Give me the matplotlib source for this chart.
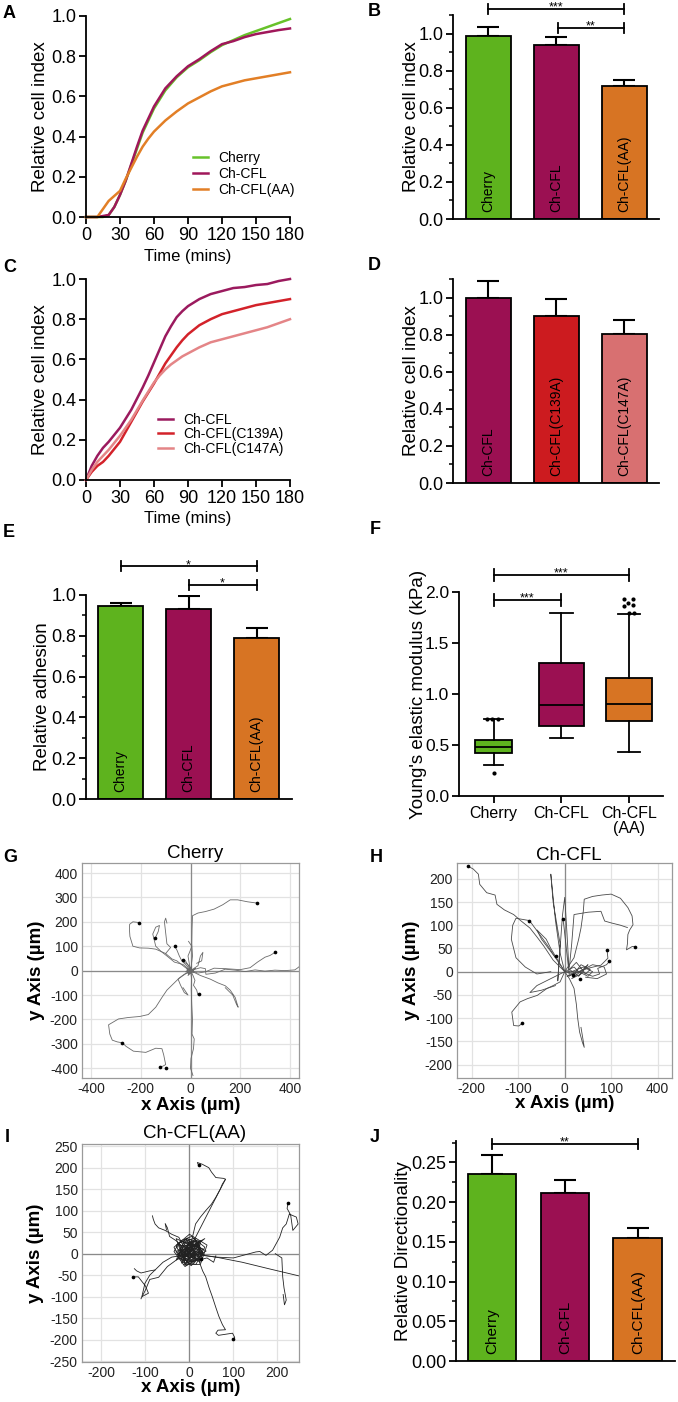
import numpy as np
import matplotlib
matplotlib.use('Agg')
import matplotlib.pyplot as plt
from matplotlib.ticker import MultipleLocator

plt.rcParams['font.family'] = ['Liberation Sans', 'DejaVu Sans']

# ---------------- data ----------------
# A: real-time cell index
time_a = [0, 5, 10, 15, 20, 25, 30, 35, 40, 45, 50, 55, 60, 70, 80, 90, 100, 110, 120, 130, 140, 150, 160, 170, 180]
cherry_a = [0, 0, 0, 0, 0.01, 0.05, 0.11, 0.18, 0.26, 0.34, 0.42, 0.48, 0.54, 0.63, 0.695, 0.745, 0.78, 0.82, 0.855, 0.88, 0.905, 0.925, 0.945, 0.965, 0.985]
cfl_a = [0, 0, 0, 0.005, 0.01, 0.05, 0.11, 0.18, 0.265, 0.35, 0.43, 0.49, 0.55, 0.64, 0.70, 0.75, 0.785, 0.825, 0.86, 0.875, 0.895, 0.91, 0.92, 0.93, 0.938]
aa_a = [0, 0, 0, 0.04, 0.08, 0.105, 0.13, 0.19, 0.245, 0.30, 0.35, 0.39, 0.425, 0.48, 0.525, 0.565, 0.595, 0.625, 0.65, 0.665, 0.68, 0.69, 0.70, 0.71, 0.72]

# C: real-time cell index, cysteine mutants
time_c = [0, 5, 10, 15, 20, 30, 40, 50, 55, 60, 65, 70, 75, 80, 85, 90, 100, 110, 120, 130, 140, 150, 160, 170, 180]
cfl_c = [0, 0.07, 0.12, 0.16, 0.19, 0.26, 0.35, 0.46, 0.52, 0.585, 0.65, 0.715, 0.765, 0.81, 0.84, 0.865, 0.90, 0.925, 0.94, 0.955, 0.96, 0.97, 0.975, 0.99, 1.0]
c139_c = [0, 0.04, 0.07, 0.09, 0.12, 0.19, 0.29, 0.39, 0.435, 0.48, 0.53, 0.58, 0.62, 0.66, 0.695, 0.725, 0.77, 0.80, 0.825, 0.84, 0.855, 0.87, 0.88, 0.89, 0.90]
c147_c = [0, 0.05, 0.09, 0.12, 0.15, 0.22, 0.30, 0.395, 0.44, 0.485, 0.52, 0.55, 0.575, 0.595, 0.615, 0.63, 0.66, 0.685, 0.70, 0.715, 0.73, 0.745, 0.76, 0.78, 0.80]

names_aa = ['Cherry', 'Ch-CFL', 'Ch-CFL(AA)']
names_cys = ['Ch-CFL', 'Ch-CFL(C139A)', 'Ch-CFL(C147A)']

# B, D, E, J bar values (mean, SEM)
rci_b = [0.985, 0.939, 0.719]
rci_b_err = [0.051, 0.041, 0.032]
rci_d = [1.0, 0.899, 0.805]
rci_d_err = [0.088, 0.091, 0.076]
adh_e = [0.947, 0.932, 0.788]
adh_e_err = [0.015, 0.064, 0.049]
dir_j = [0.235, 0.211, 0.155]
dir_j_err = [0.024, 0.017, 0.012]

# F: Young's modulus box plot
box_names = ['Cherry', 'Ch-CFL', 'Ch-CFL\n(AA)']
box_lo = [0.30, 0.565, 0.436]
box_q1 = [0.423, 0.684, 0.74]
box_med = [0.485, 0.897, 0.90]
box_q3 = [0.55, 1.30, 1.159]
box_hi = [0.757, 1.79, 1.786]
flier_grp = [0, 0, 0, 0, 2, 2, 2, 2, 2, 2, 2]
flier_dx = [-0.1, -0.02, 0.07, 0.0, -0.07, 0.05, -0.01, -0.07, 0.05, 0.0, 0.07]
flier_y = [0.757, 0.757, 0.757, 0.224, 1.93, 1.93, 1.89, 1.86, 1.87, 1.795, 1.795]

# G: Cherry cell tracks (um)
cherry_tracks = [
    [(0, 0), (6, -8), (3, 20), (8, 60), (5, 110), (6, 170), (8, 225), (30, 236), (60, 242), (95, 252), (130, 270), (160, 290), (190, 290), (230, 282), (266, 277)],
    [(0, 0), (30, -10), (60, -5), (95, 10), (140, 8), (200, 4), (240, 12), (270, 35), (300, 55), (320, 62), (341, 75)],
    [(0, 0), (40, 12), (60, 8), (62, -15), (100, -10), (140, 6), (180, 2), (220, -4), (260, 3), (300, -2), (340, 2), (380, 0), (420, 3), (430, 10), (436, 15)],
    [(0, 0), (-20, 12), (-30, 20), (-55, 40), (-75, 48), (-100, 70), (-140, 88), (-170, 92), (-205, 93), (-232, 100), (-244, 140), (-246, 170), (-245, 190), (-232, 200), (-215, 198), (-207, 195)],
    [(0, 0), (-30, 25), (-65, 35), (-95, 60), (-120, 80), (-140, 100), (-152, 150), (-140, 178), (-125, 185), (-130, 160), (-142, 134)],
    [(-100, 70), (-80, 95), (-95, 110), (-105, 200), (-100, 215), (-95, 195)],
    [(0, 0), (-15, 20), (-35, 40), (-45, 60), (-55, 85), (-64, 100)],
    [(0, 0), (10, -20), (18, -40), (12, -60), (25, -80), (30, -100), (35, -94)],
    [(0, 0), (-25, -15), (-45, -30), (-70, -55), (-95, -80), (-115, -110), (-140, -150), (-170, -180), (-205, -188), (-250, -192), (-290, -198), (-330, -222), (-325, -260), (-315, -285), (-295, -292), (-274, -296)],
    [(-274, -296), (-260, -310), (-230, -330), (-180, -335), (-140, -318), (-115, -320), (-108, -345), (-100, -385), (-112, -392), (-123, -393)],
    [(0, 0), (4, -30), (3, -80), (5, -140), (8, -200), (6, -260), (15, -280), (12, -320), (2, -360), (0, -400), (10, -430)],
    [(0, 0), (40, -20), (80, -35), (110, -50), (140, -62), (160, -80), (180, -110), (192, -150), (186, -140), (170, -100), (140, -70)],
    [(0, 0), (-5, 30), (-10, 60), (-2, 80), (5, 100), (-8, 120)],
    [(0, 0), (30, 20), (40, 60), (50, 75), (45, 40), (25, 30)],
    [(0, 0), (-15, 10), (-8, -15), (10, 5), (-20, -5), (5, 15), (-12, -10), (15, -8), (-5, 20), (-25, 35), (-30, 45), (-20, 40), (5, -5), (20, 10), (-10, -20), (0, 0)],
    [(0, 0), (-30, -20), (-50, -35), (-40, -60), (-25, -90), (-10, -100), (-30, -70)],
]
cherry_ends = [(266, 277), (341, 75), (-207, 195), (-142, 134), (-64, 100), (35, -94), (-274, -296), (-123, -393), (-100, -398), (-30, 45)]

# H: Ch-CFL cell tracks (um)
cfl_tracks = [
    [(0, 0), (-15, 15), (-25, 25), (-45, 55), (-60, 75), (-75, 94), (-95, 110), (-110, 123), (-130, 133), (-146, 145), (-150, 165), (-168, 170), (-183, 188), (-186, 210), (-197, 221), (-208, 227)],
    [(0, 0), (-20, 30), (-38, 58), (-59, 87), (-76, 110)],
    [(-76, 110), (-105, 115), (-112, 100), (-115, 70), (-105, 30), (-85, 10), (-60, -5), (-30, 0)],
    [(0, 0), (-10, -22), (-25, -30), (-38, -36), (-59, -51), (-80, -58), (-96, -65), (-114, -87), (-110, -116), (-99, -117), (-91, -111)],
    [(0, 0), (-10, 40), (-20, 110), (-30, 210), (-25, 150), (-10, 60), (-15, -20), (-5, 120), (0, 160), (5, 80), (10, -10), (-2, 100), (-4, 114)],
    [(0, 0), (20, -5), (49, 7), (78, 14), (93, 29), (91, 47)],
    [(0, 0), (35, 0), (60, -10), (75, -5), (71, 7), (90, 15), (96, 22)],
    [(0, 0), (20, 30), (30, 70), (35, 94), (40, 130), (42, 156), (60, 162), (80, 165), (100, 167), (120, 158), (136, 138), (145, 120), (147, 101), (140, 90), (136, 80), (135, 60), (133, 47), (145, 54), (152, 54)],
    [(10, 10), (15, 60), (20, 123), (50, 128), (78, 130), (86, 109), (100, 105), (120, 100), (135, 95)],
    [(0, 0), (10, -15), (20, -36), (25, -70), (28, -101), (32, -130), (38, -152), (42, -163), (40, -150), (35, -120)],
    [(0, 0), (20, 10), (35, -5), (15, -15), (40, 5), (50, 15), (30, -10), (10, 5), (25, 20), (45, -5), (55, 5), (35, 15), (20, -5), (5, -10), (30, 0), (50, -10), (60, 0), (40, 10), (15, 0)],
    [(30, 0), (60, 15), (85, 10), (90, -5), (70, -15), (45, -12)],
    [(0, 0), (-30, 50), (-40, 70), (-60, 90), (-50, 70), (-20, 30)],
    [(0, 0), (-60, -30), (-75, -45), (-50, -40), (-20, -30)],
]
cfl_ends = [(-208, 227), (-76, 110), (-91, -111), (-4, 114), (-18, 34), (91, 47), (96, 22), (152, 54), (17, -7), (33, -16)]

# I: Ch-CFL(AA) cell tracks (um)
aa_tracks = [
    [(0, 0), (5, 30), (14, 69), (25, 85), (37, 100), (50, 115), (60, 131), (70, 150), (75, 162), (82, 173), (78, 175), (60, 177), (50, 190), (44, 200), (29, 208), (18, 212), (21, 205)],
    [(82, 173), (50, 110), (20, 50), (0, 10)],
    [(0, 0), (40, -5), (60, -8), (100, -10), (151, 4), (160, 5), (174, -4), (189, 8), (205, 38), (212, 60), (220, 69), (227, 92), (243, 85), (247, 69), (235, 54), (230, 90), (222, 105), (224, 118)],
    [(0, 0), (-20, -5), (-40, -8), (-60, -20), (-78, -38), (-90, -50), (-101, -69), (-108, -100), (-93, -92), (-100, -75), (-116, -54), (-129, -54)],
    [(-78, -38), (-90, -40), (-110, -45), (-120, -40), (-125, -35)],
    [(0, 0), (15, -10), (21, -15), (30, -40), (37, -54), (45, -80), (52, -100), (60, -125), (67, -146), (75, -165), (82, -177), (65, -178), (60, -185), (66, -190), (98, -185), (103, -195), (100, -198)],
    [(0, 0), (60, -8), (120, -20), (180, -35), (250, -52)],
    [(195, 0), (210, -10), (212, -54), (215, -80), (220, -108), (216, -119), (213, -95)],
    [(0, 0), (-15, 20), (-24, 38), (-40, 45), (-55, 54), (-70, 60), (-78, 69), (-82, 80), (-84, 88)],
    [(0, 0), (-30, 30), (-45, 40), (-50, 60), (-55, 70), (-52, 55)],
    [(0, 0), (20, -15), (40, -10), (55, -20), (60, -5)],
    [(0, 0), (-30, -15), (-50, -30), (-70, -55), (-90, -60), (-100, -85), (-110, -105)],
    [(0, 0), (10, 20), (-10, 25), (-20, 5), (5, -15), (25, 10), (15, 30), (-15, 15), (-25, -10), (10, -20), (30, 0), (20, 25), (-5, 35), (-30, 20), (-15, -20), (15, -25), (35, 15), (5, 40), (-20, 30), (-35, 5), (-10, -30), (20, -10), (25, 30), (-5, 10), (0, -10), (-25, 25), (10, 35), (35, -5), (15, 5), (-15, -5)],
    [(5, 5), (-15, 25), (20, 30), (30, -15), (-20, -15), (-35, 15), (0, 45), (40, 20), (25, -25), (-10, -25), (-30, 35), (10, 15), (35, 35), (-25, 0), (15, -5), (0, 25), (-10, 5), (20, 10), (-5, -15), (30, 5)],
    [(-5, -5), (18, 22), (-22, 18), (-8, -28), (28, -8), (12, 28), (-28, -2), (8, -18), (22, 15), (-12, 30), (-30, -15), (5, 20), (32, 10), (-18, -22), (0, 30), (25, -20), (-25, 10), (10, -5), (-10, 15), (15, 35)],
    [(0, 5), (-12, -12), (14, -6), (6, 18), (-18, 8), (20, 20), (-6, -20), (-24, 22), (30, -2), (4, -28), (-30, 6), (16, 12), (-2, 26), (24, -14), (-16, -4), (8, 8), (-8, 34), (38, 6), (-14, -26), (12, -14)],
    [(2, 2), (8, 12), (-6, 8), (-4, -6), (10, -4), (4, 16), (-12, 2), (0, -12), (14, 6), (-8, 14), (-2, 4), (6, -8), (12, 14), (-10, -8), (2, 10)],
]
aa_ends = [(21, 205), (224, 118), (-129, -54), (100, -198), (27, -12)]

g_xticks = [-400, -200, 0, 200, 400]
g_xlabels = ['-400', '-200', '0', '200', '400']
g_yticks = [-400, -300, -200, -100, 0, 100, 200, 300, 400]
g_ylabels = ['-400', '-300', '-200', '-100', '0', '100', '200', '300', '400']
h_xticks = [-200, -100, 0, 100, 200]
h_xlabels = ['-200', '-100', '0', '100', '400']
h_yticks = [-200, -150, -100, -50, 0, 50, 100, 150, 200]
h_ylabels = ['-200', '-150', '-100', '-50', '0', '50', '100', '150', '200']
i_xticks = [-200, -100, 0, 100, 200]
i_xlabels = ['-200', '-100', '0', '100', '200']
i_yticks = [-250, -200, -150, -100, -50, 0, 50, 100, 150, 200, 250]
i_ylabels = ['-250', '-200', '-150', '-100', '-50', '0', '50', '100', '150', '200', '250']

# colours
c_green = '#5eb31e'
c_purple = '#9b1052'
c_orange = '#d77423'
c_red = '#cc1b1f'
c_pink = '#d87071'

# ---------------- layout helpers ----------------
W, H = 678, 1402
fig = plt.figure(figsize=(W / 100, H / 100), dpi=100)


def add_ax(box):
    l, t, r, b = box
    return fig.add_axes([l / W, 1 - b / H, (r - l) / W, (b - t) / H])


def prism(ax, labelsize=13):
    ax.spines['top'].set_visible(False)
    ax.spines['right'].set_visible(False)
    ax.spines['left'].set_linewidth(1.3)
    ax.spines['bottom'].set_linewidth(1.3)
    ax.tick_params(direction='out', length=5, width=1.3, labelsize=labelsize, pad=2)
    ax.tick_params(which='minor', direction='out', length=3, width=1.1)


def ylabel_at(ax, box, text, px, size=13.5, weight='normal'):
    ax.set_ylabel(text, fontsize=size, fontweight=weight)
    ax.yaxis.set_label_coords((px - box[0]) / (box[2] - box[0]), 0.5)
    ax.yaxis.label.set_va('center')


def xlabel_at(ax, box, text, py, size=12, weight='normal'):
    ax.set_xlabel(text, fontsize=size, fontweight=weight)
    ax.xaxis.set_label_coords(0.5, (box[3] - py) / (box[3] - box[1]))
    ax.xaxis.label.set_va('center')


def bracket(ax, box, x1, x2, y, stars, cap_px=5):
    lo, hi = ax.get_ylim()
    upp = (hi - lo) / (box[3] - box[1])
    ax.plot([x1, x2], [y, y], color='black', lw=1.3, clip_on=False)
    for xx in (x1, x2):
        ax.plot([xx, xx], [y - cap_px * upp, y + cap_px * upp], color='black', lw=1.3, clip_on=False)
    ax.text((x1 + x2) / 2, y - 1.5 * upp, stars, ha='center', va='baseline', fontsize=9)


def bar_panel(ax, names, vals, errs, colors, ylim, yticks, fmt, minor, xlim, text_fs=10, width=0.66):
    x = np.arange(len(vals))
    ax.bar(x, vals, width=width, color=colors, edgecolor='black', linewidth=1.3, zorder=2)
    ax.errorbar(x, vals, yerr=[np.zeros(len(vals)), errs], fmt='none', ecolor='black',
                elinewidth=1.5, capsize=8, capthick=1.5, zorder=1)
    for xi, name in zip(x, names):
        ax.annotate(name, (xi, 0), xytext=(0, 5), textcoords='offset points', rotation=90,
                    ha='center', va='bottom', fontsize=text_fs)
    ax.set_xlim(*xlim)
    ax.set_ylim(*ylim)
    ax.set_xticks([])
    ax.set_yticks(yticks)
    ax.set_yticklabels([fmt.format(v) for v in yticks])
    ax.yaxis.set_minor_locator(MultipleLocator(minor))
    prism(ax)


def track_panel(ax, tracks, ends, lims, xt, xl, yt, yl, color):
    ax.set_xlim(lims[0], lims[1])
    ax.set_ylim(lims[2], lims[3])
    ax.set_xticks(xt)
    ax.set_xticklabels(xl)
    ax.set_yticks(yt)
    ax.set_yticklabels(yl)
    ax.grid(True, color='#e2e2e2', lw=0.9)
    ax.set_axisbelow(True)
    ax.axhline(0, color='#8a8a8a', lw=0.9, zorder=1)
    ax.axvline(0, color='#8a8a8a', lw=0.9, zorder=1)
    for tr in tracks:
        xs, ys = zip(*tr)
        ax.plot(xs, ys, color=color, lw=0.6, zorder=2)
    ex, ey = zip(*ends)
    ax.scatter(ex, ey, s=7, color='black', zorder=3, linewidths=0)
    for sp in ax.spines.values():
        sp.set_color('#9a9a9a')
        sp.set_linewidth(0.9)
    ax.tick_params(length=0, labelsize=10, labelcolor='#222222', pad=3)


def panel_letter(x, y, s):
    fig.text(x / W, 1 - y / H, s, fontsize=13, fontweight='bold', ha='left', va='center')


# ---------------- A ----------------
box_a = (86, 16, 290, 217)
ax = add_ax(box_a)
ax.plot(time_a, cherry_a, color='#67c22a', lw=1.8, label='Cherry', clip_on=False)
ax.plot(time_a, cfl_a, color='#a0175a', lw=1.8, label='Ch-CFL', clip_on=False)
ax.plot(time_a, aa_a, color='#e27f26', lw=1.8, label='Ch-CFL(AA)', clip_on=False)
ax.set_xlim(0, 180)
ax.set_ylim(0, 1.0)
ax.set_xticks(np.arange(0, 181, 30))
ax.set_yticks(np.arange(0, 1.01, 0.2))
ax.set_yticklabels(['{:.1f}'.format(v) for v in np.arange(0, 1.01, 0.2)])
prism(ax)
ylabel_at(ax, box_a, 'Relative cell index', 40)
xlabel_at(ax, box_a, 'Time (mins)', 256)
ax.legend(loc='upper left', bbox_to_anchor=(0.525, 0.33), frameon=False, fontsize=10,
          handlelength=1.1, handletextpad=0.7, labelspacing=0.15, borderpad=0, borderaxespad=0)
panel_letter(3, 14, 'A')

# ---------------- B ----------------
box_b = (453, 15, 659, 219)
ax = add_ax(box_b)
bar_panel(ax, names_aa, rci_b, rci_b_err, [c_green, c_purple, c_orange], (0, 1.1),
          [0, 0.2, 0.4, 0.6, 0.8, 1.0], '{:.1f}', 0.1, (-0.52, 2.51))
ylabel_at(ax, box_b, 'Relative cell index', 411.7)
bracket(ax, box_b, 0, 2, 1.13, '***')
bracket(ax, box_b, 1.02, 2, 1.03, '**')
panel_letter(368, 12, 'B')

# ---------------- C ----------------
box_c = (86, 279, 290, 480)
ax = add_ax(box_c)
ax.plot(time_c, cfl_c, color='#9b1a5e', lw=1.8, label='Ch-CFL', clip_on=False)
ax.plot(time_c, c139_c, color='#d3222a', lw=1.8, label='Ch-CFL(C139A)', clip_on=False)
ax.plot(time_c, c147_c, color='#e48587', lw=1.8, label='Ch-CFL(C147A)', clip_on=False)
ax.set_xlim(0, 180)
ax.set_ylim(0, 1.0)
ax.set_xticks(np.arange(0, 181, 30))
ax.set_yticks(np.arange(0, 1.01, 0.2))
ax.set_yticklabels(['{:.1f}'.format(v) for v in np.arange(0, 1.01, 0.2)])
prism(ax)
ylabel_at(ax, box_c, 'Relative cell index', 40)
xlabel_at(ax, box_c, 'Time (mins)', 519)
ax.legend(loc='upper left', bbox_to_anchor=(0.353, 0.333), frameon=False, fontsize=10,
          handlelength=1.1, handletextpad=0.7, labelspacing=0.02, borderpad=0, borderaxespad=0)
panel_letter(3, 267, 'C')

# ---------------- D ----------------
box_d = (453, 279, 659, 483)
ax = add_ax(box_d)
bar_panel(ax, names_cys, rci_d, rci_d_err, [c_purple, c_red, c_pink], (0, 1.1),
          [0, 0.2, 0.4, 0.6, 0.8, 1.0], '{:.1f}', 0.1, (-0.52, 2.51))
ylabel_at(ax, box_d, 'Relative cell index', 411.7)
panel_letter(368, 266, 'D')

# ---------------- E ----------------
box_e = (86, 595, 292, 799)
ax = add_ax(box_e)
bar_panel(ax, names_aa, adh_e, adh_e_err, [c_green, c_purple, c_orange], (0, 1.0),
          [0, 0.2, 0.4, 0.6, 0.8, 1.0], '{:.1f}', 0.1, (-0.51, 2.52))
ylabel_at(ax, box_e, 'Relative adhesion', 42)
bracket(ax, box_e, 0, 2, 1.14, '*')
bracket(ax, box_e, 1, 2, 1.05, '*')
panel_letter(3, 532, 'E')

# ---------------- F ----------------
box_f = (459, 592, 663, 796)
ax = add_ax(box_f)
stats = []
for i in range(3):
    stats.append(dict(med=box_med[i], q1=box_q1[i], q3=box_q3[i], whislo=box_lo[i],
                      whishi=box_hi[i], fliers=[], label=box_names[i]))
bp = ax.bxp(stats, positions=[0, 1, 2], widths=[0.55, 0.67, 0.67], patch_artist=True,
            showfliers=False,
            boxprops=dict(edgecolor='black', linewidth=1.3),
            medianprops=dict(color='black', linewidth=1.3),
            whiskerprops=dict(color='black', linewidth=1.3),
            capprops=dict(color='black', linewidth=1.3))
for patch, col in zip(bp['boxes'], [c_green, c_purple, c_orange]):
    patch.set_facecolor(col)
fx = [flier_grp[k] + flier_dx[k] for k in range(len(flier_y))]
ax.scatter(fx, flier_y, s=9, color='black', zorder=3, linewidths=0)
ax.set_xlim(-0.51, 2.50)
ax.set_ylim(0, 2.0)
ax.set_yticks([0, 0.5, 1.0, 1.5, 2.0])
ax.set_yticklabels(['0.0', '0.5', '1.0', '1.5', '2.0'])
ax.set_xticks([0, 1, 2])
ax.set_xticklabels(box_names, fontsize=11.5, linespacing=1.0)
prism(ax, labelsize=12.5)
ax.tick_params(axis='x', labelsize=11.5)
ylabel_at(ax, box_f, "Young's elastic modulus (kPa)", 418)
bracket(ax, box_f, 0, 2, 2.17, '***', cap_px=6)
bracket(ax, box_f, 0, 1, 1.92, '***', cap_px=6)
panel_letter(370, 530, 'F')

# ---------------- G ----------------
box_g = (82, 863, 299, 1078)
ax = add_ax(box_g)
track_panel(ax, cherry_tracks, cherry_ends, (-437, 437, -440, 441),
            g_xticks, g_xlabels, g_yticks, g_ylabels, '#6a6a6a')
ax.text(0.52, 1 + 10 / 215, 'Cherry', transform=ax.transAxes, ha='center', va='center', fontsize=13.5)
ylabel_at(ax, box_g, 'y Axis (µm)', 36.7, weight='bold')
xlabel_at(ax, box_g, 'x Axis (µm)', 1105, size=13.5, weight='bold')
panel_letter(3, 857, 'G')

# ---------------- H ----------------
box_h = (457, 863, 672, 1078)
ax = add_ax(box_h)
track_panel(ax, cfl_tracks, cfl_ends, (-232, 231, -229, 234),
            h_xticks, h_xlabels, h_yticks, h_ylabels, '#4a4a4a')
ax.text(0.52, 1 + 8 / 215, 'Ch-CFL', transform=ax.transAxes, ha='center', va='center', fontsize=13.5)
ylabel_at(ax, box_h, 'y Axis (µm)', 411.7, weight='bold')
xlabel_at(ax, box_h, 'x Axis (µm)', 1104, size=13.5, weight='bold')
panel_letter(370, 858, 'H')

# ---------------- I ----------------
box_i = (82, 1144, 299, 1362)
ax = add_ax(box_i)
track_panel(ax, aa_tracks, aa_ends, (-244, 249, -252, 255),
            i_xticks, i_xlabels, i_yticks, i_ylabels, '#222222')
ax.text(0.52, 1 + 11 / 218, 'Ch-CFL(AA)', transform=ax.transAxes, ha='center', va='center', fontsize=13.5)
ylabel_at(ax, box_i, 'y Axis (µm)', 35, weight='bold')
xlabel_at(ax, box_i, 'x Axis (µm)', 1388, size=13.5, weight='bold')
panel_letter(5, 1137, 'I')

# ---------------- J ----------------
box_j = (456, 1141, 675, 1361)
ax = add_ax(box_j)
bar_panel(ax, names_aa, dir_j, dir_j_err, [c_green, c_purple, c_orange], (0, 0.277),
          [0, 0.05, 0.10, 0.15, 0.20, 0.25], '{:.2f}', 0.025, (-0.495, 2.51), text_fs=11, width=0.67)
ylabel_at(ax, box_j, 'Relative Directionality', 403)
bracket(ax, box_j, 0, 2, 0.2738, '**')
panel_letter(370, 1138, 'J')

fig.savefig('out.png', dpi=100)
